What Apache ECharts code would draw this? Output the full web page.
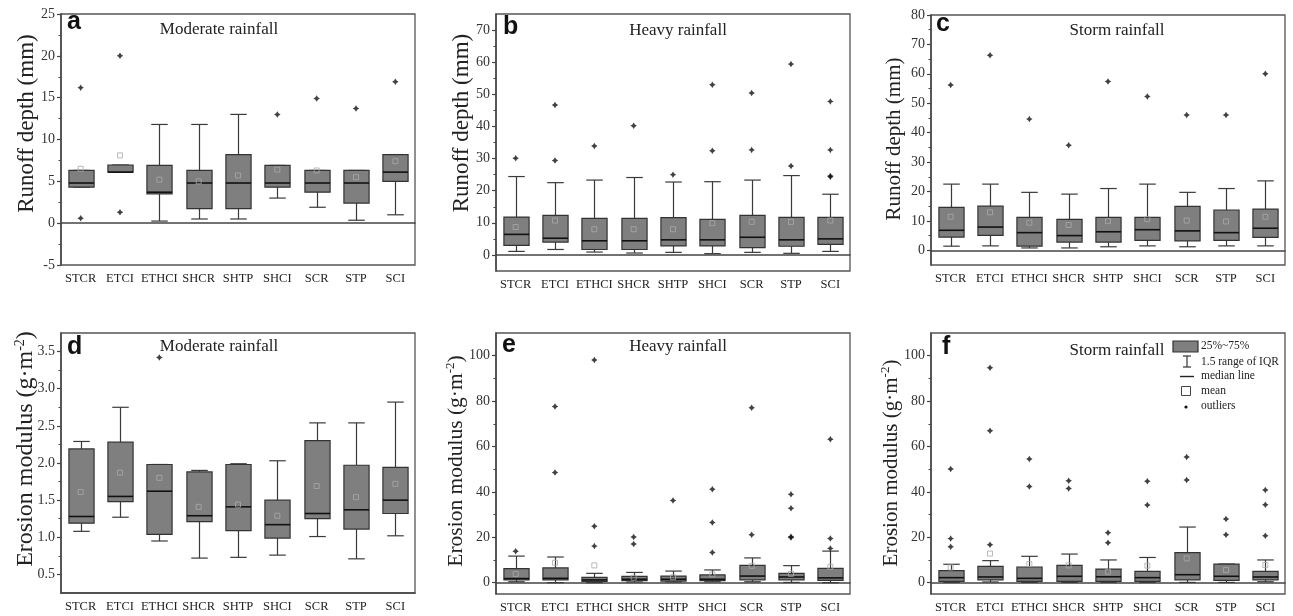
<!DOCTYPE html>
<html>
<head>
<meta charset="utf-8">
<script src="https://cdn.jsdelivr.net/npm/echarts@6/dist/echarts.min.js"></script>
<style>
html,body{margin:0;padding:0;background:#fff;}
#chart{width:1293px;height:616px;}
</style>
</head>
<body>
<div id="chart"></div>
<script>
const categories = ['STCR','ETCI','ETHCI','SHCR','SHTP','SHCI','SCR','STP','SCI'];

// each row: [lower whisker, Q1, median, Q3, upper whisker]
const aBox = [[4.3,4.3,4.8,6.3,6.3],[6.1,6.1,6.1,6.95,6.95],[0.25,3.5,3.7,6.9,11.8],[0.5,1.75,4.8,6.3,11.8],[0.5,1.75,4.8,8.2,13.0],[3.0,4.3,4.8,6.9,6.9],[1.9,3.7,4.8,6.3,6.3],[0.35,2.4,4.8,6.3,6.3],[1.0,5.0,6.1,8.2,8.2]];
const aMean = [6.5,8.1,5.2,5.0,5.7,6.4,6.3,5.5,7.4];
const aOut = [[16.2,0.6],[20.0,1.3],[],[],[],[13.0],[14.9],[13.7],[16.9]];

const bBox = [[1.1,3.0,6.4,11.8,24.4],[1.7,4.0,5.2,12.3,22.5],[0.9,1.7,4.4,11.4,23.3],[0.6,1.7,4.4,11.4,24.1],[0.8,2.8,4.7,11.6,22.7],[0.4,2.8,4.7,11.1,22.8],[0.8,2.3,5.5,12.3,23.3],[0.5,2.7,4.7,11.7,24.7],[1.1,3.3,5.0,11.7,18.9]];
const bMean = [8.7,10.7,8.0,8.0,8.0,9.9,10.3,10.3,10.7];
const bOut = [[30.1],[29.4,46.7],[33.9],[40.2],[25.0],[32.4,53.0],[32.7,50.4],[27.7,59.4],[24.3,24.6,32.7,47.8]];

const cBox = [[1.4,4.5,6.8,14.6,22.5],[1.5,5.1,7.9,15.0,22.5],[0.8,1.4,6.0,11.2,19.7],[0.8,2.8,5.0,10.5,19.1],[1.2,2.8,6.3,11.2,21.0],[1.5,3.4,7.0,11.2,22.5],[1.2,3.2,6.6,14.9,19.7],[1.5,3.4,6.0,13.7,21.0],[1.5,4.4,7.5,14.0,23.6]];
const cMean = [11.4,12.9,9.4,8.6,9.9,10.6,10.1,9.8,11.4];
const cOut = [[56.2],[66.3],[44.6],[35.7],[57.4],[52.3],[46.0],[46.0],[60.0]];

const dBox = [[1.08,1.19,1.28,2.19,2.29],[1.27,1.48,1.55,2.28,2.75],[0.95,1.04,1.62,1.98,1.98],[0.72,1.21,1.29,1.88,1.90],[0.73,1.09,1.41,1.98,1.99],[0.76,0.99,1.17,1.50,2.03],[1.01,1.25,1.32,2.30,2.54],[0.71,1.11,1.37,1.97,2.54],[1.02,1.32,1.50,1.94,2.82]];
const dMean = [1.61,1.87,1.80,1.41,1.44,1.29,1.69,1.54,1.72];
const dOut = [[],[],[3.42],[],[],[],[],[],[]];

const eBox = [[0.4,1.2,1.8,6.2,11.7],[0,1.2,1.9,6.5,11.3],[0,0.6,1.2,2.3,4.1],[0.3,0.9,1.5,2.8,4.5],[0.3,0.7,1.5,2.9,5.1],[0.4,0.9,1.5,3.4,5.6],[0.4,1.2,2.9,7.6,10.9],[0.1,1.2,2.5,4.1,7.5],[0,1.0,2.1,6.3,13.9]];
const eMean = [3.8,8.8,7.6,2.2,2.4,3.6,7.4,3.9,7.0];
const eOut = [[13.8],[48.5,77.6],[16.1,24.9,98.1],[17.0,20.1],[36.2],[13.3,26.5,41.2],[21.1,77.1],[19.9,20.2,32.8,38.9],[15.1,19.5,63.2]];

const fBox = [[0.1,0.6,2.2,5.3,8.1],[0.3,1.2,2.5,7.2,9.7],[0.1,0.6,1.9,6.9,11.6],[0.1,0.6,2.8,7.6,12.6],[0.1,0.6,2.6,6.0,10.0],[0.1,0.6,2.2,5.0,11.1],[0.1,1.2,3.5,13.2,24.5],[0.1,1.0,2.8,8.2,8.2],[0.4,1.2,2.5,5.0,10.0]];
const fMean = [6.7,12.8,8.2,7.6,4.8,7.5,10.7,5.6,7.8];
const fOut = [[15.8,19.4,50.1],[16.7,66.9,94.7],[42.4,54.5],[41.5,44.9],[17.6,22.0],[34.2,44.7],[45.2,55.4],[21.1,28.0],[20.7,34.3,40.8]];

const aTicks = [-5,0,5,10,15,20,25];
const aMinor = [-2.5,2.5,7.5,12.5,17.5,22.5];
const bTicks = [0,10,20,30,40,50,60,70];
const bMinor = [5,15,25,35,45,55,65];
const cTicks = [0,10,20,30,40,50,60,70,80];
const cMinor = [5,15,25,35,45,55,65,75];
const dTicks = [0.5,1.0,1.5,2.0,2.5,3.0,3.5];
const dMinor = [0.75,1.25,1.75,2.25,2.75,3.25];
const eTicks = [0,20,40,60,80,100];
const eMinor = [10,30,50,70,90];
const fTicks = [0,20,40,60,80,100];
const fMinor = [10,30,50,70,90];

const titles = ['Moderate rainfall','Heavy rainfall','Storm rainfall','Moderate rainfall','Heavy rainfall','Storm rainfall'];
const letters = ['a','b','c','d','e','f'];
const yNames = ['Runoff depth (mm)','Runoff depth (mm)','Runoff depth (mm)','{n|Erosion modulus (g·m}{sup|-2}{n|)}','{n|Erosion modulus (g·m}{sup|-2}{n|)}','{n|Erosion modulus (g·m}{sup|-2}{n|)}'];
const legendLabels = ['25%~75%','1.5 range of IQR','median line','mean','outliers'];

const SERIF = "'Liberation Serif','Times New Roman',serif";
const SANS = "'Liberation Sans',Arial,sans-serif";

const panels = [
  {box:aBox, mean:aMean, out:aOut, ticks:aTicks, minor:aMinor, min:-5, max:25, dec:0, grid:{left:61,top:14,width:354,height:251}},
  {box:bBox, mean:bMean, out:bOut, ticks:bTicks, minor:bMinor, min:-5, max:75, dec:0, grid:{left:496,top:14,width:354,height:257}},
  {box:cBox, mean:cMean, out:cOut, ticks:cTicks, minor:cMinor, min:-5, max:80, dec:0, grid:{left:931,top:15,width:354,height:250}},
  {box:dBox, mean:dMean, out:dOut, ticks:dTicks, minor:dMinor, min:0.25, max:3.75, dec:1, grid:{left:61,top:333,width:354,height:260}},
  {box:eBox, mean:eMean, out:eOut, ticks:eTicks, minor:eMinor, min:-5, max:110, dec:0, grid:{left:496,top:333,width:354,height:261}},
  {box:fBox, mean:fMean, out:fOut, ticks:fTicks, minor:fMinor, min:-5, max:110, dec:0, grid:{left:931,top:333,width:354,height:261}}
];

// text positions
const titlePos = [[219,30],[678,31],[1117,31],[219,347],[678,347],[1117,351]];
const letterPos = [[67,35],[503,40],[936,37],[67,360],[502,358],[942,360]];
const namePos = [[27,123.5],[461.5,123],[894,139],[26,449],[456,461],[891,463]];
const nameSize = [23,23,21,24,21.5,21];

function boxRender(params, api) {
  const idx = api.value(0);
  const low = api.coord([idx, api.value(1)]);
  const q1 = api.coord([idx, api.value(2)]);
  const med = api.coord([idx, api.value(3)]);
  const q3 = api.coord([idx, api.value(4)]);
  const high = api.coord([idx, api.value(5)]);
  const band = api.size([1, 0])[0];
  const bw = band * 0.64, cw = band * 0.42;
  const x = Math.round(low[0]) + 0.5;
  const st = {stroke:'#3a3a3a', lineWidth:1.2};
  return {type:'group', children:[
    {type:'line', shape:{x1:x,y1:high[1],x2:x,y2:q3[1]}, style:st},
    {type:'line', shape:{x1:x,y1:q1[1],x2:x,y2:low[1]}, style:st},
    {type:'line', shape:{x1:x-cw/2,y1:high[1],x2:x+cw/2,y2:high[1]}, style:st},
    {type:'line', shape:{x1:x-cw/2,y1:low[1],x2:x+cw/2,y2:low[1]}, style:st},
    {type:'rect', shape:{x:x-bw/2,y:q3[1],width:bw,height:q1[1]-q3[1]}, style:{fill:'#7f7f7f', stroke:'#333', lineWidth:1.2}},
    {type:'line', shape:{x1:x-bw/2,y1:med[1],x2:x+bw/2,y2:med[1]}, style:{stroke:'#111', lineWidth:1.6}}
  ]};
}

const STAR = 'path://M0,-10 L3.8,-3.8 L10,0 L3.8,3.8 L0,10 L-3.8,3.8 L-10,0 L-3.8,-3.8 Z';

const grid = [], xAxis = [], yAxis = [], series = [], graphic = [];
panels.forEach((p, k) => {
  grid.push(Object.assign({show:true, borderColor:'#555', borderWidth:1.3, backgroundColor:'transparent'}, p.grid));
  xAxis.push({
    type:'category', gridIndex:k, data:categories, boundaryGap:true,
    axisLine:{lineStyle:{color:'#444', width:1.5}},
    axisTick:{alignWithLabel:true, interval:0, length:4, lineStyle:{color:'#444', width:1.2}},
    axisLabel:{interval:0, fontFamily:SERIF, fontSize:12.5, color:'#222', margin:7},
    splitLine:{show:false}
  });
  const dec = p.dec;
  yAxis.push({
    type:'value', gridIndex:k, min:p.min, max:p.max, position:'left',
    axisLine:{show:true, lineStyle:{color:'#444', width:1.5}},
    axisTick:{show:true, length:4, customValues:p.ticks, lineStyle:{color:'#444', width:1.2}},
    axisLabel:{customValues:p.ticks, formatter:(v) => Number(v).toFixed(dec), fontFamily:SERIF, fontSize:14, color:'#333', margin:6},
    splitLine:{show:false}
  });
  yAxis.push({
    type:'value', gridIndex:k, min:p.min, max:p.max, position:'left',
    axisLine:{show:false},
    axisTick:{show:true, length:2.5, customValues:p.minor, lineStyle:{color:'#444', width:1}},
    axisLabel:{show:false},
    splitLine:{show:false}
  });
  const yIdx = k * 2;
  series.push({
    type:'custom', xAxisIndex:k, yAxisIndex:yIdx, renderItem:boxRender,
    encode:{x:0, y:[1,2,3,4,5]},
    data:p.box.map((b, i) => [i].concat(b)), z:2, silent:true
  });
  series.push({
    type:'scatter', xAxisIndex:k, yAxisIndex:yIdx, symbol:'rect', symbolSize:5,
    itemStyle:{color:'rgba(0,0,0,0)', borderColor:'#aaa', borderWidth:1},
    data:p.mean.map((v, i) => [i, v]), z:4, silent:true
  });
  const pts = [];
  p.out.forEach((arr, i) => arr.forEach(v => pts.push([i, v])));
  series.push({
    type:'scatter', xAxisIndex:k, yAxisIndex:yIdx, symbol:STAR, symbolSize:6.5,
    itemStyle:{color:'#111'}, data:pts, z:5, silent:true
  });
  graphic.push({type:'text', x:titlePos[k][0], y:titlePos[k][1], style:{text:titles[k], fontFamily:SERIF, fontSize:17, fill:'#222', textAlign:'center', textVerticalAlign:'middle'}, z:10});
  graphic.push({type:'text', x:letterPos[k][0], y:letterPos[k][1], style:{text:letters[k], fontFamily:SANS, fontWeight:'bold', fontSize:25, fill:'#111', textAlign:'left', textVerticalAlign:'bottom'}, z:10});
  const fs = nameSize[k];
  graphic.push({type:'text', x:namePos[k][0], y:namePos[k][1], rotation:Math.PI/2,
    style:{text:yNames[k], fontFamily:SERIF, fontSize:fs, fill:'#222', textAlign:'center', textVerticalAlign:'middle',
      rich:{n:{fontFamily:SERIF, fontSize:fs, fill:'#222', lineHeight:fs+2},
            sup:{fontFamily:SERIF, fontSize:Math.round(fs*0.6), fill:'#222', verticalAlign:'top', lineHeight:Math.round(fs*0.6)}}}, z:10});
});

// legend in panel f
const LX = 1201;
graphic.push({type:'rect', shape:{x:1173, y:341, width:25, height:11}, style:{fill:'#7f7f7f', stroke:'#333', lineWidth:1.2}, z:10});
graphic.push({type:'line', shape:{x1:1187, y1:356, x2:1187, y2:367}, style:{stroke:'#333', lineWidth:1.2}, z:10});
graphic.push({type:'line', shape:{x1:1183, y1:356, x2:1191, y2:356}, style:{stroke:'#333', lineWidth:1.2}, z:10});
graphic.push({type:'line', shape:{x1:1183, y1:367, x2:1191, y2:367}, style:{stroke:'#333', lineWidth:1.2}, z:10});
graphic.push({type:'line', shape:{x1:1180, y1:376.5, x2:1194, y2:376.5}, style:{stroke:'#222', lineWidth:1.4}, z:10});
graphic.push({type:'rect', shape:{x:1181.5, y:386.5, width:9, height:9}, style:{fill:'none', stroke:'#444', lineWidth:1}, z:10});
graphic.push({type:'circle', shape:{cx:1186, cy:407, r:1.6}, style:{fill:'#111'}, z:10});
const legendY = [346, 361.5, 376, 391, 406];
legendLabels.forEach((t, i) => {
  graphic.push({type:'text', x:LX, y:legendY[i], style:{text:t, fontFamily:SERIF, fontSize:11.5, fill:'#222', textAlign:'left', textVerticalAlign:'middle'}, z:10});
});

const chart = echarts.init(document.getElementById('chart'), null, {renderer:'canvas'});
chart.setOption({
  animation:false,
  backgroundColor:'#fff',
  grid, xAxis, yAxis, series, graphic
});
</script>
</body>
</html>
